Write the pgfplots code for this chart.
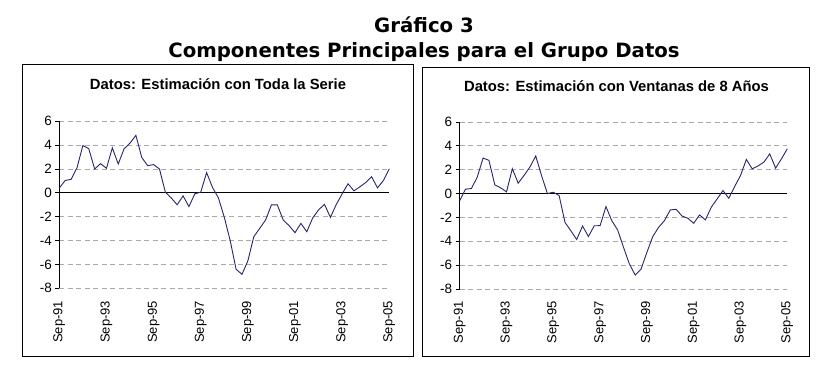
\documentclass[border=0pt]{standalone}
\usepackage{pgfplots}
\pgfplotsset{compat=1.18}
\usepackage{pgfplotstable}
\usepackage{fontspec}
\setmainfont{Liberation Sans}
\newfontfamily\titlefont{DejaVu Sans}
\definecolor{serie}{RGB}{40,36,110}
\definecolor{gridc}{RGB}{170,170,170}

\pgfplotstableread{
i a b
0 0.40 -0.59
1 1.04 0.37
2 1.13 0.42
3 2.10 1.38
4 3.97 2.98
5 3.70 2.78
6 2.00 0.73
7 2.45 0.48
8 2.06 0.14
9 3.77 2.08
10 2.42 0.87
11 3.70 1.52
12 4.17 2.22
13 4.82 3.15
14 2.96 1.49
15 2.28 0.00
16 2.37 0.11
17 2.00 -0.17
18 0.05 -2.42
19 -0.42 -3.12
20 -1.00 -3.85
21 -0.25 -2.72
22 -1.15 -3.60
23 -0.08 -2.70
24 0.06 -2.69
25 1.70 -1.09
26 0.45 -2.27
27 -0.42 -3.05
28 -2.05 -4.50
29 -4.00 -5.90
30 -6.40 -6.83
31 -6.83 -6.33
32 -5.70 -4.93
33 -3.68 -3.61
34 -2.98 -2.83
35 -2.28 -2.27
36 -1.01 -1.37
37 -1.01 -1.32
38 -2.28 -1.88
39 -2.75 -2.07
40 -3.34 -2.49
41 -2.56 -1.79
42 -3.26 -2.21
43 -2.10 -1.15
44 -1.43 -0.45
45 -0.96 0.25
46 -2.05 -0.39
47 -0.98 0.59
48 -0.08 1.51
49 0.76 2.86
50 0.17 2.07
51 0.50 2.32
52 0.87 2.63
53 1.35 3.33
54 0.42 2.13
55 1.04 2.91
56 2.02 3.75
}\datos

\pgfplotsset{
  panel/.style={
    scale only axis,
    width=#1, height=167pt,
    xmin=0, xmax=56, ymin=-8, ymax=6,
    axis lines*=left,
    x axis line style={draw=none},
    y axis line style={black, line width=0.9pt},
    xtick={0,8,16,24,32,40,48,56},
    xticklabels={Sep-91,Sep-93,Sep-95,Sep-97,Sep-99,Sep-01,Sep-03,Sep-05},
    x tick style={draw=none},
    xticklabel shift=5pt,
    xticklabel style={rotate=90, anchor=east, font=\fontsize{13}{13}\selectfont},
    ytick={-8,-6,-4,-2,0,2,4,6},
    yticklabels={-8,-6,-4,-2,0,2,4,6},
    yticklabel style={font=\fontsize{13.5}{13.5}\selectfont},
    y tick style={black, line width=0.9pt},
    tick align=outside,
    major tick length=4pt,
    ymajorgrids,
    grid style={gridc, line width=0.8pt, dash pattern=on 5pt off 3.5pt},
    extra y ticks={0},
    extra y tick labels={},
    extra y tick style={grid style={black, solid, line width=0.9pt}, major tick length=0pt},
    clip=false,
  }
}

\begin{document}
\begin{tikzpicture}[x=1pt,y=1pt]
\path (0,0) rectangle (839,380);
\node[font=\titlefont\bfseries\fontsize{19.7}{19.7}\selectfont, anchor=base] at (424,347) {Gráfico 3};
\node[font=\titlefont\bfseries\fontsize{19.7}{19.7}\selectfont, anchor=base] at (424,322) {Componentes Principales para el Grupo Datos};
\draw[line width=1.3pt] (22.3,315.7) rectangle (413.3,23.3);
\draw[line width=1.3pt] (422.3,312.7) rectangle (809.3,23.3);
\node[font=\bfseries\fontsize{14.8}{14.8}\selectfont] at (218,296) {Datos: Estimación con Toda la Serie};
\node[font=\bfseries\fontsize{14.8}{14.8}\selectfont] at (616.5,294.3) {Datos: Estimación con Ventanas de 8 Años};

\begin{axis}[panel=330pt, at={(59.3pt,91.7pt)}, anchor=south west]
\addplot[serie, line width=0.9pt, mark=none] table[x=i, y=a] {\datos};
\end{axis}

\begin{axis}[panel=327.6pt, at={(459.7pt,91pt)}, anchor=south west]
\addplot[serie, line width=0.9pt, mark=none] table[x=i, y=b] {\datos};
\end{axis}
\end{tikzpicture}
\end{document}
